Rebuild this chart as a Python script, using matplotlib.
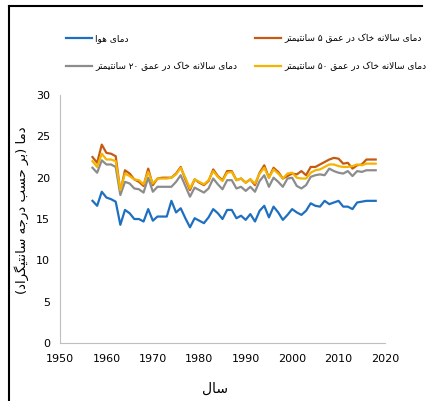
import matplotlib
matplotlib.use("Agg")
import matplotlib.pyplot as plt
from matplotlib.lines import Line2D

# ---- data ----
years = list(range(1957, 2019))

air_temp = [17.2, 16.6, 18.3, 17.6, 17.4, 17.1, 14.3, 16.1, 15.7, 15.0,
            15.0, 14.7, 16.2, 14.8, 15.3, 15.3, 15.3, 17.2, 15.8, 16.3,
            15.1, 14.0, 15.1, 14.8, 14.5, 15.2, 16.2, 15.7, 15.0, 16.1,
            16.1, 15.1, 15.4, 14.9, 15.6, 14.7, 16.0, 16.6, 15.2, 16.5,
            15.8, 14.9, 15.5, 16.2, 15.8, 15.5, 16.0, 16.9, 16.6, 16.5,
            17.2, 16.8, 17.0, 17.2, 16.5, 16.5, 16.2, 17.0, 17.1, 17.2,
            17.2, 17.2]

soil_5cm = [22.5, 21.8, 24.0, 23.0, 22.9, 22.6, 18.3, 20.9, 20.5, 19.8,
            19.5, 19.0, 21.1, 19.1, 19.9, 20.0, 20.0, 20.0, 20.5, 21.3,
            19.8, 18.5, 19.8, 19.4, 19.1, 19.6, 21.0, 20.2, 19.7, 20.8,
            20.8, 19.7, 19.9, 19.4, 19.8, 19.1, 20.6, 21.5, 20.0, 21.2,
            20.7, 19.9, 20.2, 20.5, 20.4, 20.8, 20.3, 21.3, 21.3, 21.6,
            21.9, 22.2, 22.4, 22.3, 21.7, 21.8, 21.1, 21.5, 21.6, 22.2,
            22.2, 22.2]

soil_20cm = [21.2, 20.6, 22.1, 21.6, 21.6, 21.3, 17.9, 19.5, 19.3, 18.7,
             18.6, 18.2, 20.0, 18.3, 18.9, 18.9, 18.9, 18.9, 19.5, 20.3,
             19.0, 17.7, 18.8, 18.5, 18.2, 18.7, 19.9, 19.2, 18.6, 19.7,
             19.7, 18.7, 18.9, 18.4, 18.9, 18.3, 19.6, 20.3, 18.9, 20.0,
             19.5, 18.9, 19.9, 20.0, 19.0, 18.7, 19.1, 20.1, 20.3, 20.4,
             20.3, 21.1, 20.8, 20.6, 20.5, 20.8, 20.2, 20.8, 20.7, 20.9,
             20.9, 20.9]

soil_50cm = [22.0, 21.3, 22.9, 22.2, 22.2, 22.0, 18.5, 20.5, 20.2, 19.8,
             19.7, 19.2, 20.7, 19.3, 19.9, 19.9, 19.9, 20.0, 20.4, 21.2,
             20.0, 18.7, 19.8, 19.5, 19.2, 19.7, 20.8, 20.1, 19.6, 20.6,
             20.7, 19.7, 19.9, 19.4, 19.8, 19.3, 20.5, 21.2, 20.0, 21.0,
             20.5, 19.9, 20.5, 20.6, 20.0, 19.9, 19.9, 20.6, 20.9, 21.0,
             21.3, 21.6, 21.6, 21.4, 21.3, 21.3, 21.4, 21.6, 21.5, 21.7,
             21.7, 21.7]

label_air = "دمای هوا"
label_5 = "دمای سالانه خاک در عمق ۵ سانتیمتر"
label_20 = "دمای سالانه خاک در عمق ۲۰ سانتیمتر"
label_50 = "دمای سالانه خاک در عمق ۵۰ سانتیمتر"
x_label = "سال"
y_label = "دما (بر حسب درجه سانتیگراد)"

x_ticks = [1950, 1960, 1970, 1980, 1990, 2000, 2010, 2020]
y_ticks = [0, 5, 10, 15, 20, 25, 30]

# ---- minimal Persian shaping (matplotlib has no RTL/joining support) ----
# isolated, final, initial, medial
FORMS = {
    "ا": ("\uFE8D", "\uFE8E", None, None),
    "ب": ("\uFE8F", "\uFE90", "\uFE91", "\uFE92"),
    "ت": ("\uFE95", "\uFE96", "\uFE97", "\uFE98"),
    "ج": ("\uFE9D", "\uFE9E", "\uFE9F", "\uFEA0"),
    "ح": ("\uFEA1", "\uFEA2", "\uFEA3", "\uFEA4"),
    "خ": ("\uFEA5", "\uFEA6", "\uFEA7", "\uFEA8"),
    "د": ("\uFEA9", "\uFEAA", None, None),
    "ر": ("\uFEAD", "\uFEAE", None, None),
    "س": ("\uFEB1", "\uFEB2", "\uFEB3", "\uFEB4"),
    "ع": ("\uFEC9", "\uFECA", "\uFECB", "\uFECC"),
    "ق": ("\uFED5", "\uFED6", "\uFED7", "\uFED8"),
    "ل": ("\uFEDD", "\uFEDE", "\uFEDF", "\uFEE0"),
    "م": ("\uFEE1", "\uFEE2", "\uFEE3", "\uFEE4"),
    "ن": ("\uFEE5", "\uFEE6", "\uFEE7", "\uFEE8"),
    "ه": ("\uFEE9", "\uFEEA", "\uFEEB", "\uFEEC"),
    "و": ("\uFEED", "\uFEEE", None, None),
    "ی": ("\uFBFC", "\uFBFD", "\uFBFE", "\uFBFF"),
    "ک": ("\uFB8E", "\uFB8F", "\uFB90", "\uFB91"),
    "گ": ("\uFB92", "\uFB93", "\uFB94", "\uFB95"),
}
DIGITS = set("۰۱۲۳۴۵۶۷۸۹0123456789")


def fa(text):
    out = []
    prev_joins = False
    i = 0
    while i < len(text):
        c = text[i]
        nxt = text[i + 1] if i + 1 < len(text) else ""
        if c not in FORMS:
            out.append(c)
            prev_joins = False
            i += 1
            continue
        if c == "ل" and nxt == "ا":
            out.append("\uFEFC" if prev_joins else "\uFEFB")
            prev_joins = False
            i += 2
            continue
        iso, fin, ini, med = FORMS[c]
        if ini is not None and nxt in FORMS:
            out.append(med if prev_joins else ini)
            prev_joins = True
        else:
            out.append(fin if prev_joins else iso)
            prev_joins = False
        i += 1
    # visual order: reverse, keep digit runs LTR, mirror brackets
    vis = out[::-1]
    res = []
    run = []
    for ch in vis:
        if ch in DIGITS:
            run.append(ch)
            continue
        res.extend(run[::-1])
        run = []
        res.append({"(": ")", ")": "("}.get(ch, ch))
    res.extend(run[::-1])
    return "".join(res)


plt.rcParams["font.family"] = ["DejaVu Sans"]

fig = plt.figure(figsize=(4.27, 4.01), dpi=100)
ax = fig.add_axes([0.1405, 0.1446, 0.7611, 0.6184])

c_air, c_5, c_20, c_50 = "#1f6fc1", "#c55a11", "#8c8c8c", "#f5b400"
lw = 1.6
h_air, = ax.plot(years, air_temp, color=c_air, lw=lw)
h_5, = ax.plot(years, soil_5cm, color=c_5, lw=lw)
h_20, = ax.plot(years, soil_20cm, color=c_20, lw=lw)
h_50, = ax.plot(years, soil_50cm, color=c_50, lw=lw)

ax.set_xlim(1950, 2020)
ax.set_ylim(0, 30)
ax.set_xticks(x_ticks)
ax.set_yticks(y_ticks)
ax.tick_params(length=0, labelsize=8, colors="#000000")
ax.tick_params(axis="x", pad=8)
ax.tick_params(axis="y", pad=7)
for side in ("top", "right"):
    ax.spines[side].set_visible(False)
for side in ("left", "bottom"):
    ax.spines[side].set_color("#bfbfbf")
    ax.spines[side].set_linewidth(0.8)

ax.set_xlabel(fa(x_label), fontsize=10)
ax.xaxis.set_label_coords(0.477, -0.158)
ax.set_ylabel(fa(y_label), fontsize=9.5)
ax.yaxis.set_label_coords(-0.094, 0.536)

handles = [h_air, h_20, h_5, h_50]
labels = [fa(label_air), fa(label_20), fa(label_5), fa(label_50)]
fig.legend(handles, labels, ncol=2, loc="upper left",
           bbox_to_anchor=(0.136, 0.936), frameon=False, fontsize=6.5,
           handlelength=2.9, handletextpad=0.3, columnspacing=2.0,
           labelspacing=2.0, borderpad=0.4)

# frame of the original screenshot
fig.add_artist(Line2D([0.021, 0.021], [0.0, 0.985], color="black", lw=1.5))
fig.add_artist(Line2D([0.021, 0.988], [0.985, 0.985], color="black", lw=1.5))

fig.savefig("out.png", dpi=100)
